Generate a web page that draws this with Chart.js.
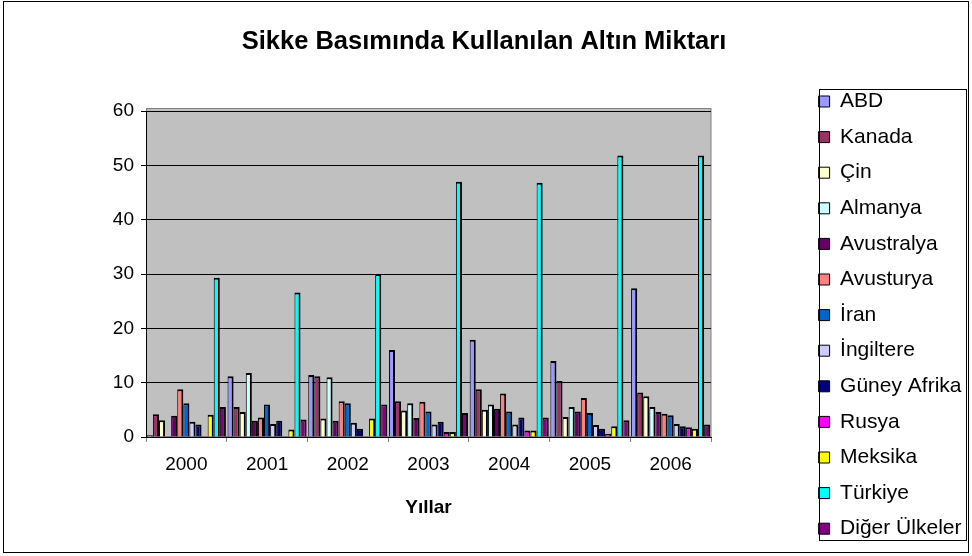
<!DOCTYPE html>
<html>
<head>
<meta charset="utf-8">
<script src="https://cdn.jsdelivr.net/npm/chart.js@4.4.1/dist/chart.umd.min.js"></script>
<style>
  html, body { margin: 0; padding: 0; background: #ffffff; }
  canvas { display: block; }
</style>
</head>
<body>
<canvas id="c" width="972" height="556"></canvas>
<script>
// Sikke basımında kullanılan altın miktarı (ton), 2000-2006
const years = ['2000', '2001', '2002', '2003', '2004', '2005', '2006'];

const ABD         = [0.3, 11.2, 11.4, 16.0, 17.9, 14.0, 27.4];
const Kanada      = [4.2, 5.5, 11.2, 6.6, 8.8, 10.3, 8.2];
const Cin         = [3.1, 4.6, 3.4, 4.9, 5.0, 3.7, 7.5];
const Almanya     = [0, 11.8, 11.0, 6.2, 6.0, 5.5, 5.5];
const Avustralya  = [3.9, 3.0, 3.0, 3.5, 5.2, 4.7, 4.6];
const Avusturya   = [8.8, 3.6, 6.6, 6.5, 8.0, 7.2, 4.3];
const Iran        = [6.2, 6.0, 6.2, 4.7, 4.7, 4.4, 4.0];
const Ingiltere   = [2.8, 2.4, 2.6, 2.3, 2.3, 2.2, 2.4];
const GuneyAfrika = [2.3, 3.0, 1.5, 2.8, 3.6, 1.5, 2.0];
const Rusya       = [0, 0, 0, 0.9, 1.2, 0.6, 1.8];
const Meksika     = [4.1, 1.4, 3.4, 0.9, 1.2, 2.0, 1.5];
const Turkiye     = [29.3, 26.6, 30.0, 47.0, 46.8, 51.8, 51.8];
const Diger       = [5.5, 3.2, 6.0, 4.4, 3.6, 3.1, 2.3];

const seriesNames = ['ABD', 'Kanada', 'Çin', 'Almanya', 'Avustralya', 'Avusturya', 'İran',
  'İngiltere', 'Güney Afrika', 'Rusya', 'Meksika', 'Türkiye', 'Diğer Ülkeler'];
const seriesValues = [ABD, Kanada, Cin, Almanya, Avustralya, Avusturya, Iran,
  Ingiltere, GuneyAfrika, Rusya, Meksika, Turkiye, Diger];

const yTicks = [0, 10, 20, 30, 40, 50, 60];

// Görünüm ayarları
const seriesColors = ['#9999FF', '#993366', '#FFFFCC', '#CCFFFF', '#660066', '#FF8080', '#0066CC',
  '#CCCCFF', '#000080', '#FF00FF', '#FFFF00', '#00FFFF', '#800080'];
const FONT = "'Liberation Sans', Arial, sans-serif";
const PAD = { left: 4, right: 8, top: 0, bottom: 2.2 };
const PLOT = { left: 146, right: 711, top: 111, bottom: 437 };

// Gri arka duvar, dış çerçeve ve açıklama kutusu
const decorations = {
  id: 'decorations',
  beforeDraw(chart) {
    const { ctx, chartArea: a } = chart;
    ctx.save();
    ctx.fillStyle = '#C0C0C0';
    ctx.fillRect(a.left, a.top - 3, a.right - a.left, a.bottom - a.top + 3);
    ctx.strokeStyle = '#808080';
    ctx.lineWidth = 1;
    ctx.strokeRect(a.left + 0.5, a.top - 2.5, a.right - a.left - 0.5, a.bottom - a.top + 2);
    ctx.restore();
  },
  afterDraw(chart) {
    const { ctx, legend } = chart;
    ctx.save();
    ctx.strokeStyle = '#000';
    ctx.lineWidth = 1;
    ctx.strokeRect(3.5, 1.5, chart.width - 7, chart.height - 5);
    const boxes = legend.legendHitBoxes;
    if (boxes && boxes.length) {
      const first = boxes[0], last = boxes[boxes.length - 1];
      const top = Math.round(first.top - 2) + 0.5;
      const bottom = Math.round(last.top + last.height + 1) + 0.5;
      const left = Math.round(legend.left + 15) + 0.5;
      const right = Math.round(legend.right + 2) + 0.5;
      ctx.strokeRect(left, top, right - left, bottom - top);
    }
    ctx.restore();
  }
};

new Chart(document.getElementById('c'), {
  type: 'bar',
  data: {
    labels: years,
    datasets: seriesNames.map((name, i) => ({
      label: name,
      data: seriesValues[i],
      backgroundColor: seriesColors[i],
      borderColor: '#000',
      borderWidth: { top: 2, right: 2, left: 1, bottom: 0 },
      categoryPercentage: 0.98,
      barPercentage: 1.0,
      xAxisID: 'x',
      yAxisID: 'y'
    }))
  },
  options: {
    responsive: false,
    animation: false,
    layout: { padding: PAD },
    plugins: {
      tooltip: { enabled: false },
      title: {
        display: true,
        text: 'Sikke Basımında Kullanılan Altın Miktarı',
        color: '#000',
        font: { family: FONT, size: 25.5, weight: 'bold' },
        padding: { top: 26.7, bottom: 10 }
      },
      legend: {
        position: 'right',
        align: 'end',
        labels: {
          color: '#000',
          font: { family: FONT, size: 21 },
          boxWidth: 11,
          boxHeight: 11,
          padding: 14.6,
          generateLabels(chart) {
            return Chart.defaults.plugins.legend.labels.generateLabels(chart)
              .map(item => Object.assign(item, { lineWidth: 1, strokeStyle: '#000' }));
          }
        }
      }
    },
    scales: {
      x: {
        type: 'category',
        position: 'bottom',
        offset: true,
        ticks: {
          color: '#000',
          font: { family: FONT, size: 19 },
          padding: 11.6,
          autoSkip: false,
          maxRotation: 0
        },
        grid: { display: true, offset: true, drawOnChartArea: false, drawTicks: true,
                tickLength: 5, color: '#808080' },
        border: { display: true, color: '#000' },
        title: {
          display: true,
          text: 'Yıllar',
          color: '#000',
          font: { family: FONT, size: 19, weight: 'bold' },
          padding: { top: 0, bottom: 34.4 }
        },
        afterFit(scale) {
          scale.height = scale.chart.height - PAD.bottom - PLOT.bottom;
        }
      },
      xt: {
        type: 'linear',
        position: 'top',
        offset: false,
        min: 0, max: 1,
        ticks: { display: false },
        grid: { display: false, drawTicks: false },
        border: { display: false },
        afterFit(scale) { scale.height = PLOT.top - PAD.top - scale.chart.titleBlock.height; }
      },
      yr: {
        type: 'linear',
        position: 'right',
        min: 0, max: 1,
        ticks: { display: false },
        grid: { display: false, drawTicks: false },
        border: { display: false },
        afterFit(scale) {
          const c = scale.chart;
          scale.width = c.width - PAD.right - c.legend.width - PLOT.right;
        }
      },
      y: {
        type: 'linear',
        min: 0,
        max: 60,
        afterBuildTicks(scale) {
          scale.ticks = yTicks.map(v => ({ value: v }));
        },
        ticks: {
          color: '#000',
          font: { family: FONT, size: 19 },
          padding: 7
        },
        grid: { color: '#000', lineWidth: 1, tickLength: 5 },
        border: { display: true, color: '#000' },
        afterFit(scale) { scale.width = PLOT.left - PAD.left; }
      }
    }
  },
  plugins: [decorations]
});
</script>
</body>
</html>
